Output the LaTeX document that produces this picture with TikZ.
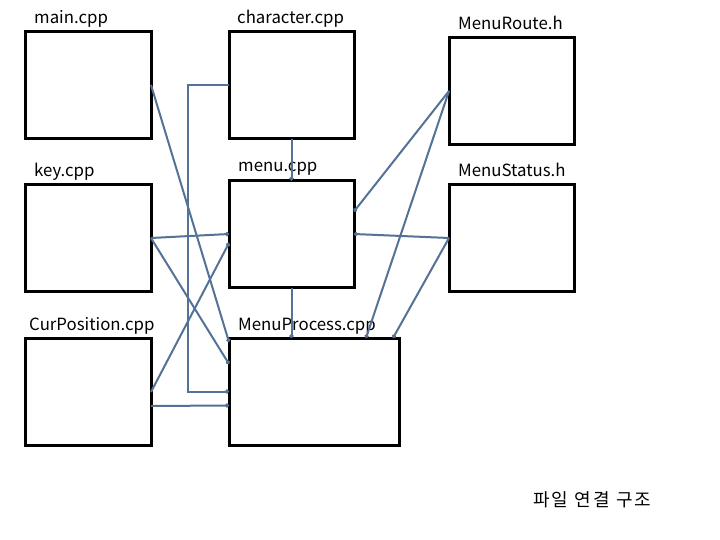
\documentclass[tikz,border=0pt]{standalone}
\usepackage{fontspec}
\setmainfont{Noto Sans CJK KR}
\usetikzlibrary{calc,arrows.meta}
\definecolor{conncol}{RGB}{84,114,150}
\begin{document}
\begin{tikzpicture}[x=1pt,y=-1pt,
  box/.style={draw=black, line width=3pt, fill=white, minimum width=#1, minimum height=107pt, inner sep=0pt, outer sep=0pt},
  box/.default=125pt,
  lbl/.style={anchor=base west, inner sep=0pt, font=\fontsize{16.8}{20}\selectfont},
  conn/.style={draw=conncol, line width=2pt, -{Circle[length=4pt]}}]
\useasboundingbox[fill=white] (0,0) rectangle (720,540);
% boxes
\node[box=126pt] (main) at (88,85) {};
\node[box] (char) at (291.5,85.5) {};
\node[box] (route) at (511.5,91) {};
\node[box=126pt] (key) at (88,238) {};
\node[box] (menu) at (291.5,234) {};
\node[box] (status) at (511.5,238) {};
\node[box=126pt] (cur) at (88,392) {};
\node[box=170pt] (proc) at (314,391.5) {};
% labels
\node[lbl] (lmain) at (34,24) {main.cpp};
\node[lbl] (lchar) at (237,24) {character.cpp};
\node[lbl] (lroute) at (458,29.5) {MenuRoute.h};
\node[lbl] (lkey) at (34,177) {key.cpp};
\node[lbl] (lmenu) at (238,172) {menu.cpp};
\node[lbl] (lstatus) at (458,177) {MenuStatus.h};
\node[lbl] (lcur) at (29,330) {CurPosition.cpp};
\node[lbl] (lproc) at (238,330) {MenuProcess.cpp};
\node[lbl, font=\fontsize{18}{22}\selectfont\addfontfeatures{LetterSpace=12}] (ltitle) at (533,506) {파일 연결 구조};
% anchor points
\coordinate (p1) at ($(proc.north west)+(0,4)$);
\coordinate (p2) at ($(proc.north west)+(0,26)$);
\coordinate (p3) at ($(proc.west)+(0,14)$);
\coordinate (p4) at ($(proc.north west)+(137,0)$);
\coordinate (p5) at ($(proc.north west)+(164,0)$);
\coordinate (m1) at ($(menu.west)+(0,9)$);
\coordinate (m2) at ($(menu.north east)+(0,31)$);
\coordinate (c1) at ($(cur.east)+(0,14)$);
% connectors
\draw[conn] (main.east) -- (p1);
\draw[conn] (char.west) -- ++(-41,0) |- (proc.west);
\draw[conn] (char.south) -- (menu.north);
\draw[conn] (key.east) -- (menu.west);
\draw[conn] (key.east) -- (p2);
\draw[conn] (cur.east) -- (m1);
\draw[conn] (c1) -- (p3);
\draw[conn] (route.west) -- (m2);
\draw[conn] (route.west) -- (p4);
\draw[conn] (status.west) -- (menu.east);
\draw[conn] (status.west) -- (p5);
\draw[conn] (menu.south) -- (menu.south |- proc.north);
\end{tikzpicture}
\end{document}
